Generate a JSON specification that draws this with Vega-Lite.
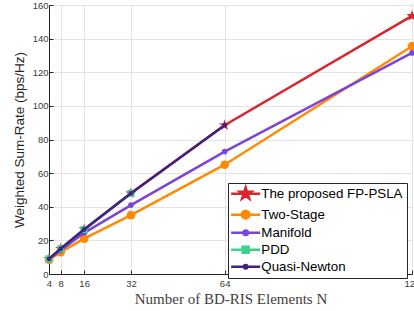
{
  "$schema": "https://vega.github.io/schema/vega-lite/v6.json",
  "width": 363,
  "height": 269,
  "autosize": {"type": "none"},
  "padding": {"left": 49, "top": 5, "right": 2, "bottom": 37},
  "background": "white",
  "config": {
    "view": {"stroke": "#262626", "strokeWidth": 1},
    "axis": {
      "grid": true,
      "gridColor": "#e3e3e3",
      "gridWidth": 1,
      "domainColor": "#262626",
      "tickColor": "#262626",
      "tickSize": -4,
      "labelFont": "Liberation Sans",
      "labelFontSize": 9.5,
      "labelColor": "#3a3a3a",
      "labelFlush": false,
      "labelOverlap": false,
      "titleFontWeight": "normal"
    },
    "legend": {
      "orient": "none",
      "legendX": 179,
      "legendY": 178,
      "padding": 4,
      "strokeColor": "#262626",
      "fillColor": "white",
      "cornerRadius": 0,
      "labelFont": "Liberation Sans",
      "labelFontSize": 13.3,
      "labelColor": "#000000",
      "labelLimit": 300,
      "symbolSize": 100,
      "symbolStrokeWidth": 2.5,
      "symbolOpacity": 1,
      "symbolOffset": 7,
      "labelOffset": 9,
      "rowPadding": 1
    }
  },
  "data": {
    "values": [
      {"series": "The proposed FP-PSLA", "N": 4, "rate": 9},
      {"series": "The proposed FP-PSLA", "N": 8, "rate": 15},
      {"series": "The proposed FP-PSLA", "N": 16, "rate": 26.5},
      {"series": "The proposed FP-PSLA", "N": 32, "rate": 48},
      {"series": "The proposed FP-PSLA", "N": 64, "rate": 88.5},
      {"series": "The proposed FP-PSLA", "N": 128, "rate": 153.5},
      {"series": "Two-Stage", "N": 4, "rate": 8.5},
      {"series": "Two-Stage", "N": 8, "rate": 13},
      {"series": "Two-Stage", "N": 16, "rate": 21},
      {"series": "Two-Stage", "N": 32, "rate": 35},
      {"series": "Two-Stage", "N": 64, "rate": 65},
      {"series": "Two-Stage", "N": 128, "rate": 135.5},
      {"series": "Manifold", "N": 4, "rate": 9},
      {"series": "Manifold", "N": 8, "rate": 14},
      {"series": "Manifold", "N": 16, "rate": 24.5},
      {"series": "Manifold", "N": 32, "rate": 41},
      {"series": "Manifold", "N": 64, "rate": 72.8},
      {"series": "Manifold", "N": 128, "rate": 131.5},
      {"series": "PDD", "N": 4, "rate": 9},
      {"series": "PDD", "N": 8, "rate": 15},
      {"series": "PDD", "N": 16, "rate": 26.5},
      {"series": "PDD", "N": 32, "rate": 48},
      {"series": "Quasi-Newton", "N": 4, "rate": 9},
      {"series": "Quasi-Newton", "N": 8, "rate": 15},
      {"series": "Quasi-Newton", "N": 16, "rate": 26.5},
      {"series": "Quasi-Newton", "N": 32, "rate": 48},
      {"series": "Quasi-Newton", "N": 64, "rate": 88.5}
    ]
  },
  "encoding": {
    "x": {
      "field": "N",
      "type": "quantitative",
      "scale": {"domain": [4, 128], "nice": false, "zero": false},
      "axis": {
        "values": [4, 8, 16, 32, 64, 128],
        "title": "Number of BD-RIS Elements N",
        "titleFont": "Liberation Serif",
        "titleFontSize": 15,
        "titleColor": "#404040",
        "titlePadding": 4,
        "labelPadding": 8
      }
    },
    "y": {
      "field": "rate",
      "type": "quantitative",
      "scale": {"domain": [0, 160], "nice": false},
      "axis": {
        "values": [0, 20, 40, 60, 80, 100, 120, 140, 160],
        "title": "Weighted Sum-Rate (bps/Hz)",
        "titleFont": "Liberation Sans",
        "titleFontSize": 13.5,
        "titleColor": "#262626",
        "titlePadding": 6,
        "labelPadding": 5
      }
    },
    "color": {
      "field": "series",
      "type": "nominal",
      "scale": {
        "domain": ["The proposed FP-PSLA", "Two-Stage", "Manifold", "PDD", "Quasi-Newton"],
        "range": ["#D7262E", "#FF8A00", "#7B45D8", "#3DD08E", "#402281"]
      },
      "legend": {
        "title": null,
        "encode": {
          "symbols": {
            "update": {
              "fill": {"scale": "color", "field": "value"},
              "stroke": {"scale": "color", "field": "value"},
              "opacity": {"value": 1},
              "strokeWidth": {"value": 2.5}
            }
          }
        }
      }
    }
  },
  "layer": [
    {
      "transform": [{"filter": "datum.series === 'The proposed FP-PSLA'"}],
      "mark": {"type": "line", "strokeWidth": 2.5, "point": {"filled": true, "size": 140, "shape": "M0,-1L0.2245,-0.309L0.951,-0.309L0.363,0.118L0.588,0.809L0,0.382L-0.588,0.809L-0.363,0.118L-0.951,-0.309L-0.2245,-0.309Z", "opacity": 1}}
    },
    {
      "transform": [{"filter": "datum.series === 'Two-Stage'"}],
      "mark": {"type": "line", "strokeWidth": 2.5, "point": {"filled": true, "size": 75, "shape": "circle", "opacity": 1}}
    },
    {
      "transform": [{"filter": "datum.series === 'Manifold'"}],
      "mark": {"type": "line", "strokeWidth": 2.5, "point": {"filled": true, "size": 32, "shape": "circle", "opacity": 1}}
    },
    {
      "transform": [{"filter": "datum.series === 'PDD'"}],
      "mark": {"type": "line", "strokeWidth": 2.5, "point": {"filled": true, "size": 50, "shape": "square", "opacity": 1}}
    },
    {
      "transform": [{"filter": "datum.series === 'Quasi-Newton'"}],
      "mark": {"type": "line", "strokeWidth": 2.5, "point": {"filled": true, "size": 22, "shape": "circle", "opacity": 1}}
    },
    {
      "mark": {"type": "point", "filled": true, "opacity": 0},
      "encoding": {
        "shape": {
          "field": "series",
          "type": "nominal",
          "legend": {"title": null},
          "scale": {
            "domain": ["The proposed FP-PSLA", "Two-Stage", "Manifold", "PDD", "Quasi-Newton"],
            "range": [
              "M-2.9,0H2.9M0,-1.2L0.269,-0.371L1.141,-0.371L0.436,0.142L0.705,0.971L0,0.458L-0.705,0.971L-0.436,0.142L-1.141,-0.371L-0.269,-0.371Z",
              "M-2.9,0H2.9M0.75,0A0.75,0.75,0,1,1,-0.75,0A0.75,0.75,0,1,1,0.75,0Z",
              "M-2.9,0H2.9M0.45,0A0.45,0.45,0,1,1,-0.45,0A0.45,0.45,0,1,1,0.45,0Z",
              "M-2.9,0H2.9M-0.6,-0.6H0.6V0.6H-0.6Z",
              "M-2.9,0H2.9M0.35,0A0.35,0.35,0,1,1,-0.35,0A0.35,0.35,0,1,1,0.35,0Z"
            ]
          }
        }
      }
    }
  ]
}
